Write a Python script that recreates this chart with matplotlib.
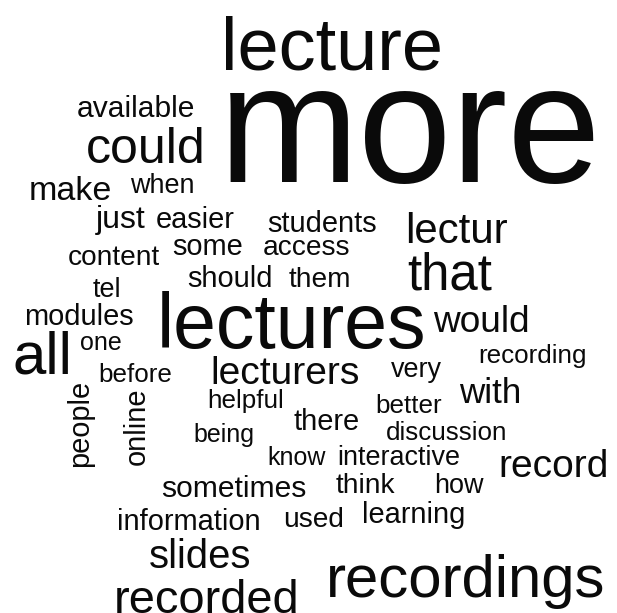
import matplotlib
matplotlib.use("Agg")
import matplotlib.pyplot as plt

# word cloud data: words and their relative size (em size in pixels)
words = ["more", "lecture", "lectures", "recordings", "all", "could", "that",
         "recorded", "lectur", "slides", "lecturers", "record", "would", "with",
         "make", "sometimes", "available", "students", "some", "should", "information",
         "learning", "modules", "easier", "just", "content", "access", "them", "there",
         "think", "used", "people", "online", "interactive", "tel", "how", "when",
         "discussion", "before", "very", "better", "helpful", "recording", "being",
         "one", "know"]
sizes = [168, 74, 77, 60, 60, 50, 51,
         47, 42, 40, 39, 39, 37, 35,
         34, 30, 30, 29, 29, 29, 29,
         29, 29, 29, 32, 28, 28, 28, 29,
         28, 28, 29, 29, 27, 27, 27, 27,
         26, 26, 27, 26, 26, 26, 25,
         25, 25]

# layout (pixel positions in a 617x613 canvas): ink centre x, baseline y, rotation
pos_x = [410, 332, 292, 466, 42, 146, 450,
         207, 456, 200, 285, 554, 481, 490,
         70, 234, 136, 322, 208, 230, 189,
         414, 79, 195, 121, 114, 306, 320, 327,
         365, 314, 80, 137, 399, 107, 459, 162,
         447, 135, 416, 409, 246, 533, 224,
         101, 297]
pos_y = [182, 70, 348, 597, 373, 163, 290,
         613, 243, 568, 384, 477, 332, 403,
         200, 497, 117, 232, 255, 287, 530,
         523, 325, 228, 228, 265, 255, 287, 430,
         493, 527, 423, 426, 465, 297, 493, 193,
         440, 382, 377, 413, 408, 363, 442,
         350, 465]
rotations = [0] * len(words)
rotations[words.index("people")] = 90
rotations[words.index("online")] = 90

W, H, DPI = 617, 613, 100
fig = plt.figure(figsize=(W / DPI, H / DPI), dpi=DPI)
ax = fig.add_axes([0, 0, 1, 1])
ax.set_xlim(0, W)
ax.set_ylim(H, 0)
ax.axis("off")

for w, s, x, y, r in zip(words, sizes, pos_x, pos_y, rotations):
    pt = s * 72 / DPI
    if r == 0:
        ax.text(x, y, w, fontsize=pt, family="Liberation Sans", color="#0a0a0a",
                ha="center", va="baseline")
    else:
        ax.text(x, y, w, fontsize=pt, family="Liberation Sans", color="#0a0a0a",
                ha="center", va="center", rotation=r)

fig.savefig("out.png", dpi=DPI, facecolor="white")
